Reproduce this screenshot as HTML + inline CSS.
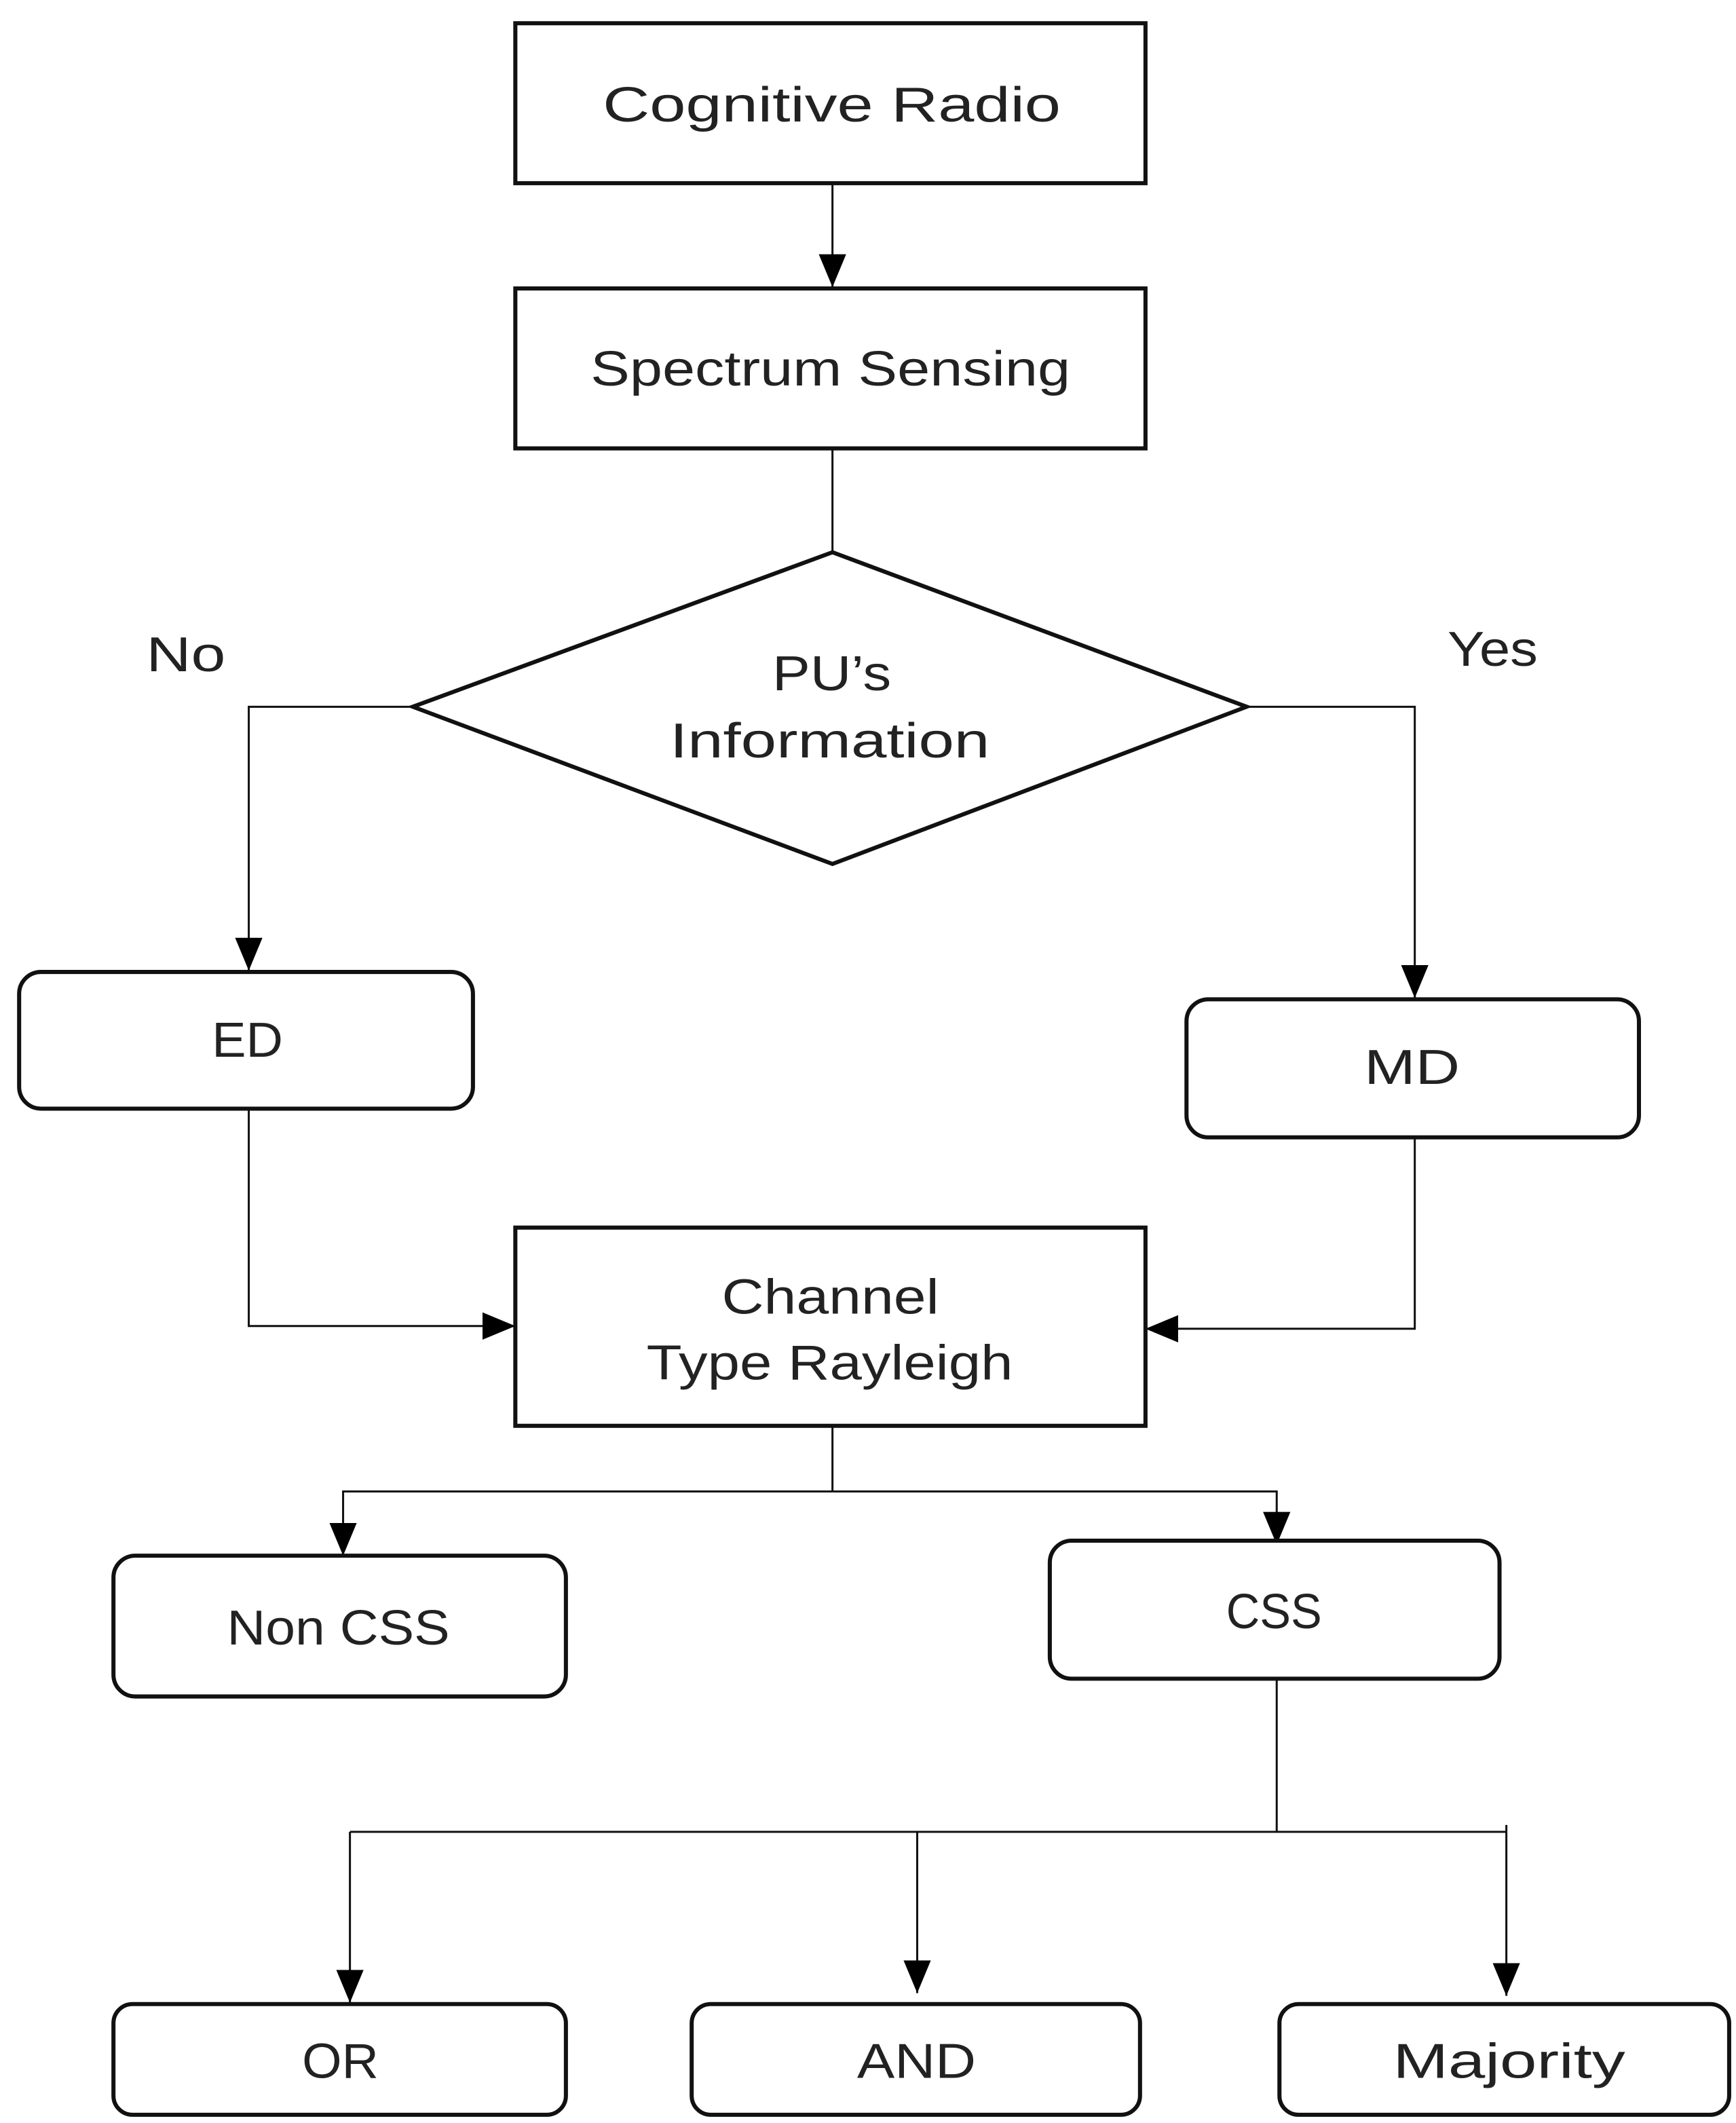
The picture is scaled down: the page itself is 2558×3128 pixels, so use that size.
<!DOCTYPE html>
<html><head><meta charset="utf-8"><style>html,body{margin:0;padding:0;background:#fff}svg{display:block}</style></head>
<body>
<svg width="2558" height="3128" viewBox="0 0 1270 1553" preserveAspectRatio="none" xmlns="http://www.w3.org/2000/svg">
<defs><marker id="a" markerWidth="12" markerHeight="12" refX="11" refY="6" orient="auto" markerUnits="userSpaceOnUse"><path d="M0,0 L12,6 L0,12 z" fill="#000"/></marker>
<marker id="b" viewBox="0 0 24 20" markerWidth="24" markerHeight="20" refX="24" refY="10" orient="auto" markerUnits="userSpaceOnUse"><path d="M0,0 L24,10 L0,20 z" fill="#000"/></marker></defs>
<g fill="none" stroke="#111" stroke-width="1.5">
<line x1="609" y1="134" x2="609" y2="210" marker-end="url(#b)"/>
<line x1="609" y1="328" x2="609" y2="404"/>
<polyline points="302,517 182,517 182,710" marker-end="url(#b)"/>
<polyline points="912,517 1035,517 1035,730" marker-end="url(#b)"/>
<polyline points="182,811 182,970 377,970" marker-end="url(#b)"/>
<polyline points="1035,832 1035,972 838,972" marker-end="url(#b)"/>
<line x1="609" y1="1043" x2="609" y2="1091"/>
<polyline points="609,1091 251,1091 251,1138" marker-end="url(#b)"/>
<polyline points="609,1091 934,1091 934,1130" marker-end="url(#b)"/>
<line x1="934" y1="1228" x2="934" y2="1340"/>
<line x1="256" y1="1340" x2="1102" y2="1340"/>
<line x1="256" y1="1340" x2="256" y2="1465" marker-end="url(#b)"/>
<line x1="671" y1="1340" x2="671" y2="1458" marker-end="url(#b)"/>
<line x1="1102" y1="1335" x2="1102" y2="1460" marker-end="url(#b)"/>
</g>
<g fill="#fff" stroke="#111" stroke-width="3">
<rect x="377" y="17" width="461" height="117"/>
<rect x="377" y="211" width="461" height="117"/>
<polygon points="609,404 912,517 609,632 302,517"/>
<rect x="14" y="711" width="332" height="100" rx="16"/>
<rect x="868" y="731" width="331" height="101" rx="16"/>
<rect x="377" y="898" width="461" height="145"/>
<rect x="83" y="1138" width="331" height="103" rx="16"/>
<rect x="768" y="1127" width="329" height="101" rx="16"/>
<rect x="83" y="1466" width="331" height="81" rx="14"/>
<rect x="506" y="1466" width="328" height="81" rx="14"/>
<rect x="936" y="1466" width="329" height="81" rx="14"/>
</g>
<g font-family="Liberation Sans, sans-serif" font-size="36" fill="#222" lengthAdjust="spacingAndGlyphs">
<text x="441" y="89" textLength="335" lengthAdjust="spacingAndGlyphs">Cognitive Radio</text>
<text x="432" y="282" textLength="351" lengthAdjust="spacingAndGlyphs">Spectrum Sensing</text>
<text x="565" y="505" textLength="87" lengthAdjust="spacingAndGlyphs">PU’s</text>
<text x="490" y="554" textLength="234" lengthAdjust="spacingAndGlyphs">Information</text>
<text x="107" y="491" textLength="58" lengthAdjust="spacingAndGlyphs">No</text>
<text x="1059" y="487" textLength="66" lengthAdjust="spacingAndGlyphs">Yes</text>
<text x="155" y="773" textLength="52" lengthAdjust="spacingAndGlyphs">ED</text>
<text x="998" y="793" textLength="70" lengthAdjust="spacingAndGlyphs">MD</text>
<text x="528" y="961" textLength="159" lengthAdjust="spacingAndGlyphs">Channel</text>
<text x="473" y="1009" textLength="268" lengthAdjust="spacingAndGlyphs">Type Rayleigh</text>
<text x="166" y="1203" textLength="163" lengthAdjust="spacingAndGlyphs">Non CSS</text>
<text x="897" y="1191" textLength="70" lengthAdjust="spacingAndGlyphs">CSS</text>
<text x="221" y="1520" textLength="56" lengthAdjust="spacingAndGlyphs">OR</text>
<text x="627" y="1520" textLength="87" lengthAdjust="spacingAndGlyphs">AND</text>
<text x="1019" y="1520" textLength="170" lengthAdjust="spacingAndGlyphs">Majority</text>
</g>
</svg>
</body></html>
